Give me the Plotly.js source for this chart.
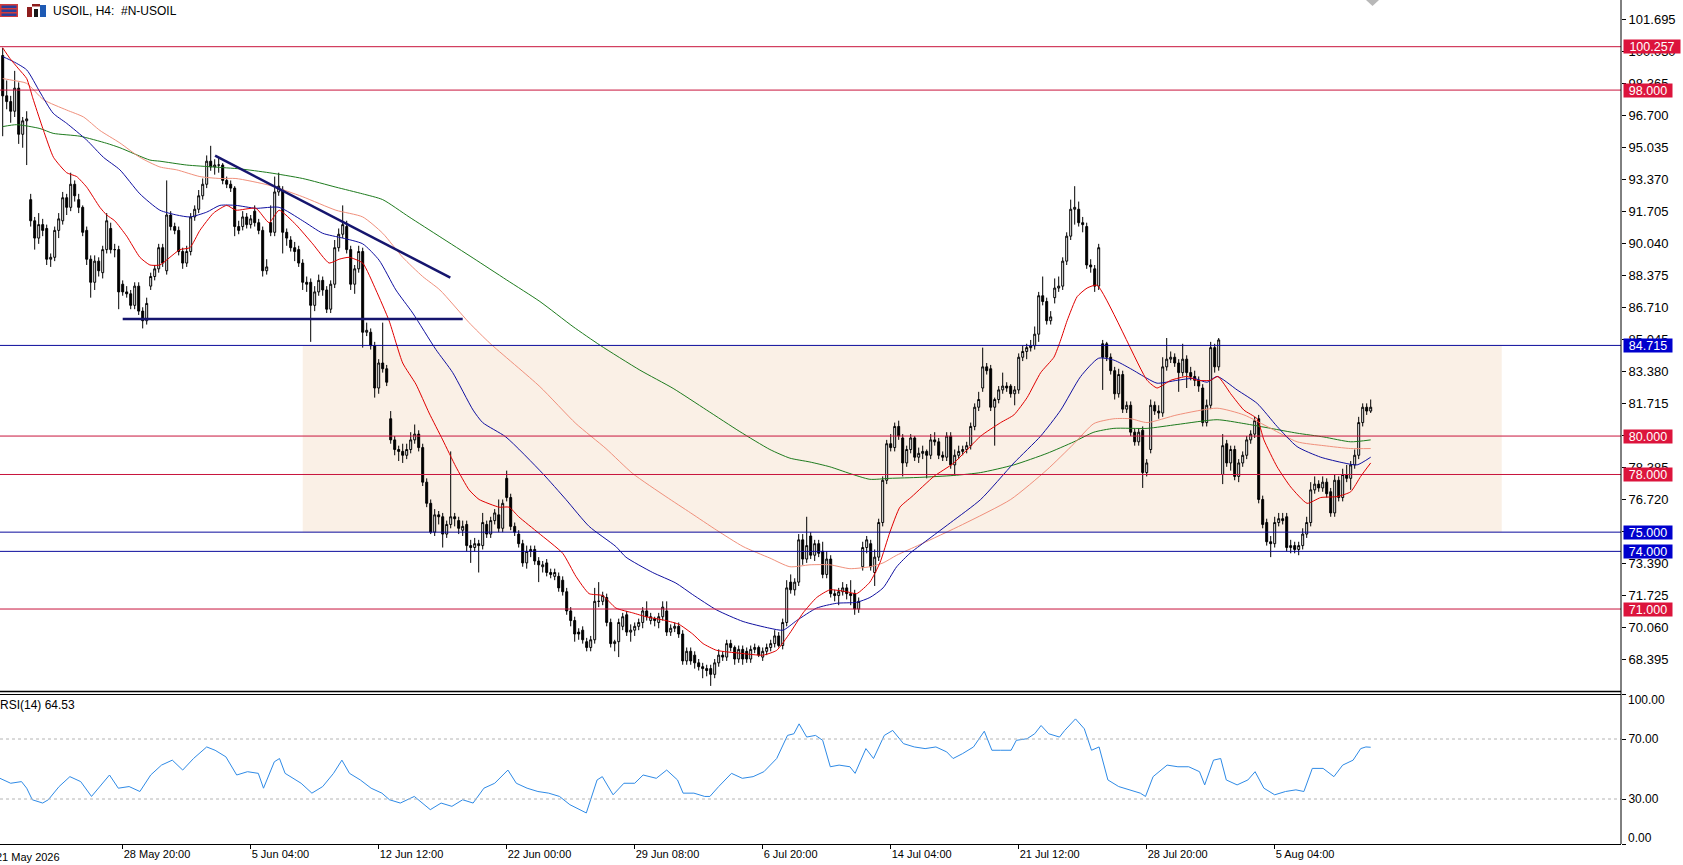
<!DOCTYPE html>
<html>
<head>
<meta charset="utf-8">
<script src="https://cdn.plot.ly/plotly-3.0.1.min.js"></script>
<style>html,body{margin:0;padding:0;background:#fff;}#chart{width:1683px;height:865px;}</style>
</head>
<body>
<div id="chart"></div>
<script>
// ---------------- DATA ----------------
const symbolTitle = 'USOIL, H4:\u00A0\u00A0#N-USOIL';
const rsiTitle = 'RSI(14) 64.53';

const xTickBars = [30, 62, 94, 126, 158, 190, 222, 254, 286, 318];
const xTickLabels = ['28 May 20:00','5 Jun 04:00','12 Jun 12:00','22 Jun 00:00','29 Jun 08:00','6 Jul 20:00','14 Jul 04:00','21 Jul 12:00','28 Jul 20:00','5 Aug 04:00'];
const firstLabelBar = -2;
const firstLabel = '21 May 2026';

const priceTicks = [101.695,100.030,98.365,96.700,95.035,93.370,91.705,90.040,88.375,86.710,85.045,83.380,81.715,80.050,78.385,76.720,75.055,73.390,71.725,70.060,68.395];
const rsiTicks = [0, 30, 70, 100];
const rsiLevels = [30, 70];

const redLevels = [100.257, 98.000, 80.000, 78.000, 71.000];
const blueLevels = [84.715, 75.000, 74.000];
const zoneBars = [75, 374.75];
const zonePrices = [75.0, 84.715];
const trendBars = [53.1, 111.9];
const trendPrices = [94.59, 88.24];
const supportBars = [30, 115];
const supportPrice = 86.09;

const opens = [
99.8,97.7,97.4,96.9,98.1,95.7,96.4,92.3,91.2,90.3,
91.0,90.8,89.2,89.3,90.7,91.2,92.4,91.9,93.1,92.3,
91.9,90.7,89.2,88.0,89.1,88.5,89.7,90.8,89.7,89.7,
87.9,87.5,87.4,86.8,87.8,86.5,86.0,87.8,88.3,88.7,
89.8,88.6,91.5,90.9,90.7,89.6,89.0,89.6,91.4,91.8,
92.5,93.1,94.3,94.0,94.1,94.1,93.3,93.1,92.9,90.9,
90.9,91.4,91.0,91.7,91.1,90.7,88.6,91.1,90.6,92.7,
92.8,90.6,90.2,89.8,89.7,89.0,88.0,88.0,86.8,87.5,
88.1,87.6,86.6,87.9,89.8,90.5,90.9,89.7,87.9,88.7,
89.6,85.4,85.4,84.7,82.5,83.8,83.5,80.9,79.8,79.3,
79.2,79.0,79.3,79.8,80.1,79.4,77.6,76.5,75.0,75.9,
75.8,74.9,75.4,75.8,75.6,75.1,75.4,74.3,74.2,74.4,
74.3,75.4,74.9,75.6,75.9,75.2,77.8,76.8,75.3,74.9,
74.4,73.4,74.0,74.1,73.5,73.2,73.4,72.9,72.7,72.7,
72.5,71.9,70.9,70.4,69.8,69.9,69.3,69.0,69.4,71.4,
71.4,71.6,70.3,69.2,69.3,70.1,70.7,69.8,69.9,70.1,
70.3,70.9,70.4,70.5,70.3,70.6,70.9,69.8,70.0,70.1,
69.7,68.3,68.8,68.6,68.2,68.0,67.9,67.9,67.6,68.2,
68.6,68.5,69.2,69.0,68.4,68.9,68.8,68.4,68.9,69.0,
68.5,68.8,69.0,69.2,69.6,69.1,70.3,72.4,72.0,72.4,
74.6,73.6,74.8,73.8,74.4,74.0,72.8,73.6,71.8,71.7,
71.9,72.1,71.8,71.8,71.0,73.2,74.2,74.4,72.9,73.7,
75.5,77.7,79.6,79.4,80.5,79.9,78.6,79.3,79.9,78.9,
79.1,79.2,79.0,79.8,79.7,79.0,78.9,80.0,78.5,79.0,
79.2,79.3,79.5,80.5,81.5,82.5,83.6,83.5,81.5,81.9,
82.4,82.6,82.6,82.2,82.4,84.1,84.4,84.6,84.7,85.3,
87.3,87.0,86.0,87.2,87.7,87.8,89.1,90.4,91.8,91.8,
91.1,90.9,88.9,88.7,87.8,84.8,84.8,84.1,83.4,82.2,
83.2,81.4,81.6,80.2,79.7,80.3,78.1,79.3,81.6,81.3,
81.2,83.6,84.0,84.1,83.8,83.3,84.0,83.3,83.1,82.9,
82.5,80.7,81.6,84.6,83.6,78.0,79.6,78.6,79.3,77.9,
78.6,79.0,79.8,80.1,80.9,76.7,75.5,74.5,74.4,75.5,
75.7,75.8,74.2,74.3,74.1,74.3,74.9,75.5,77.2,77.5,
77.3,77.6,77.1,76.0,77.7,76.8,78.0,77.8,78.5,79.0,
80.7,81.5,81.3];

const highs = [
100.2,98.5,97.7,99.0,98.4,96.6,96.9,92.6,91.4,91.6,
91.3,91.0,89.5,90.9,91.6,92.7,92.6,93.7,93.3,92.6,
92.0,90.9,89.4,89.4,89.3,89.9,91.6,91.1,90.0,89.9,
88.1,87.8,87.6,88.0,88.0,86.7,87.2,88.5,88.9,90.0,
90.0,93.3,91.7,91.1,90.9,89.8,89.9,91.6,92.0,92.8,
93.4,94.6,95.1,94.4,94.5,94.2,93.5,93.3,93.0,91.2,
91.7,91.6,91.5,92.0,91.3,90.9,89.2,92.0,93.5,93.7,
93.0,90.8,90.4,90.1,89.9,89.2,88.3,88.2,87.8,88.4,
88.3,87.8,88.1,90.2,90.8,92.0,91.2,89.9,88.9,89.9,
89.8,85.9,85.6,84.9,84.0,85.9,83.7,81.3,80.0,79.5,
79.6,79.6,80.2,80.6,80.3,79.6,77.8,76.7,76.2,76.1,
76.0,75.6,79.2,76.0,75.8,75.6,75.6,74.6,74.7,74.6,
76.0,75.6,75.8,76.2,76.7,76.7,78.2,77.0,75.5,75.1,
74.6,74.3,74.3,74.3,73.7,73.5,73.6,73.1,73.1,72.9,
72.7,72.1,71.1,70.6,70.0,70.1,69.5,69.6,72.1,72.4,
71.9,71.8,70.5,69.4,70.5,70.8,70.9,70.2,70.3,70.5,
71.1,71.4,70.8,70.6,70.8,71.4,71.4,70.2,70.3,70.3,
69.9,69.0,69.0,68.8,68.4,68.2,68.1,68.1,68.4,68.9,
68.8,69.4,69.4,69.1,69.1,69.1,69.0,69.1,69.2,69.1,
69.0,69.2,69.4,69.9,69.8,70.5,72.5,72.8,72.6,74.9,
74.9,75.8,75.0,74.6,74.6,74.5,74.0,73.8,72.0,72.1,
72.4,72.3,72.5,72.0,71.6,74.5,74.8,74.6,74.1,75.7,
77.9,79.8,80.1,80.7,80.8,80.1,79.5,80.1,80.0,79.4,
79.5,79.3,80.1,80.2,79.9,79.2,80.2,80.2,79.3,79.5,
79.5,79.7,80.7,81.7,82.3,84.6,83.8,83.7,82.0,82.6,
83.3,82.8,82.7,82.6,84.3,84.7,84.8,85.0,85.7,87.5,
88.3,87.2,86.5,88.2,88.3,89.3,90.6,92.3,93.0,92.2,
91.4,91.1,89.2,88.9,90.0,85.0,84.9,84.3,83.6,83.5,
83.4,81.8,81.8,80.4,80.4,80.5,78.8,81.9,81.8,81.6,
84.1,85.1,84.4,84.3,84.0,84.8,84.2,83.6,83.4,83.1,
82.7,81.9,84.9,84.8,85.1,80.1,79.8,79.5,79.5,78.8,
79.2,80.0,80.3,81.0,81.1,76.9,75.7,74.8,75.8,76.0,
76.0,76.0,74.6,74.5,74.5,75.2,75.8,77.6,77.9,77.7,
77.9,77.8,77.3,78.0,77.9,78.3,78.5,78.7,79.3,81.0,
81.7,81.7,81.9];

const lows = [
95.6,97.0,96.3,96.6,95.2,95.0,94.1,90.9,89.7,90.0,
90.4,88.9,88.8,89.1,90.3,91.0,91.5,91.7,92.2,91.6,
90.4,88.9,87.2,87.6,88.3,88.2,89.5,89.5,89.3,86.6,
87.3,87.2,86.6,86.6,86.3,85.6,85.8,87.6,88.1,88.5,
88.8,88.4,90.7,90.5,89.4,88.7,88.8,89.4,91.2,91.6,
92.3,92.9,93.8,93.6,93.7,93.1,92.9,92.7,90.4,90.5,
90.7,90.8,90.8,90.9,90.5,88.3,88.4,90.4,90.4,92.5,
89.5,89.9,89.6,89.1,88.8,87.6,87.5,84.9,86.5,87.3,
87.3,86.4,86.4,87.7,89.6,90.3,89.5,87.6,87.4,88.5,
84.6,85.2,84.5,82.0,82.2,83.3,82.6,79.6,79.0,78.7,
78.6,78.8,79.1,79.6,79.2,77.4,76.3,74.9,74.8,75.4,
74.2,74.7,75.2,75.3,74.9,74.8,74.0,73.4,74.0,72.9,
74.1,74.7,74.7,75.4,75.0,75.0,76.6,75.1,74.8,74.2,
73.2,73.1,73.7,73.3,72.4,72.9,72.7,72.6,72.5,71.9,
71.7,70.7,70.1,69.3,69.4,69.2,68.8,68.8,69.2,71.1,
71.2,70.1,69.0,68.8,68.5,69.9,69.6,69.3,69.6,69.9,
70.0,70.4,70.2,70.1,70.0,70.4,69.6,69.6,69.8,69.5,
68.1,68.1,68.1,67.9,67.8,67.4,67.5,67.0,67.4,68.0,
68.3,68.3,68.8,68.1,68.2,68.1,68.2,68.2,68.7,68.5,
68.3,68.6,68.8,69.0,69.0,68.9,70.1,71.8,71.7,72.2,
73.3,73.4,73.6,73.5,73.7,72.6,72.6,71.6,71.4,71.2,
71.7,71.5,71.2,70.7,70.8,73.0,73.9,73.0,72.2,73.5,
75.3,77.5,79.2,79.2,79.8,77.9,78.4,79.1,78.7,78.6,
78.8,77.8,78.8,79.5,78.8,78.7,78.7,78.3,78.0,78.8,
79.0,79.1,79.3,80.3,81.3,82.3,83.2,81.3,79.5,81.7,
82.2,82.3,82.0,81.6,82.2,83.9,84.0,84.4,84.5,84.9,
86.8,85.8,85.8,86.9,87.5,87.6,88.9,90.2,91.0,90.9,
90.6,88.7,88.5,87.5,87.6,82.4,83.9,83.2,81.9,82.0,
81.2,81.2,80.0,79.5,79.5,77.3,77.9,79.1,81.1,80.9,
81.0,83.4,83.8,83.6,82.3,83.1,82.5,82.9,82.6,82.3,
80.5,80.5,81.4,83.3,83.4,77.5,78.4,78.2,77.7,77.6,
78.4,78.8,79.6,79.9,76.5,75.2,74.3,73.7,74.2,75.3,
75.4,74.0,73.9,73.9,73.8,74.1,74.7,75.3,77.0,77.1,
77.1,76.8,75.8,75.8,76.6,76.6,77.6,77.2,78.3,78.8,
80.5,81.1,81.2];

const closes = [
97.7,97.4,96.9,98.1,95.7,96.4,96.5,91.2,90.3,91.0,
90.7,89.2,89.3,90.7,91.3,92.4,91.9,93.1,92.5,91.9,
90.6,89.2,88.0,89.1,88.6,89.7,91.2,89.7,89.7,87.5,
87.5,87.4,86.8,87.8,86.5,86.0,86.9,88.3,88.7,89.8,
89.0,91.5,90.9,90.7,89.6,89.0,89.6,91.4,91.8,92.5,
93.1,94.3,94.0,94.1,94.1,93.3,93.1,92.9,90.9,90.7,
91.4,91.0,91.3,91.1,90.7,88.6,88.8,90.6,92.7,93.0,
90.6,90.3,89.8,89.6,89.0,88.0,87.9,86.8,87.5,88.1,
87.6,86.6,87.9,89.8,90.5,91.0,89.7,87.9,88.7,89.6,
85.4,85.5,84.7,82.5,83.8,83.5,82.8,79.8,79.3,79.2,
79.0,79.3,79.8,80.1,79.4,77.6,76.5,75.0,75.9,75.8,
74.9,75.4,75.8,75.7,75.2,75.3,74.3,74.2,74.4,74.3,
75.5,74.9,75.6,76.0,75.2,76.5,76.8,75.3,75.0,74.4,
73.4,74.0,74.1,73.5,73.3,73.3,72.9,72.8,72.9,72.1,
71.9,70.9,70.4,69.7,69.7,69.4,69.0,69.4,71.4,71.4,
71.7,70.3,69.2,69.3,70.3,70.6,69.8,69.9,70.1,70.3,
70.9,70.6,70.6,70.4,70.6,71.1,69.8,70.0,70.1,69.7,
68.3,68.8,68.3,68.2,68.0,67.9,67.8,67.6,68.2,68.6,
68.5,69.2,69.0,68.4,68.9,68.4,68.4,68.9,69.0,68.6,
68.8,69.0,69.2,69.6,69.1,70.3,72.1,72.0,72.4,74.6,
73.6,74.3,73.8,74.4,73.9,72.8,73.6,71.8,71.7,71.9,
72.1,71.8,71.7,71.0,71.4,74.2,74.6,73.2,73.7,75.5,
77.7,79.6,79.4,80.5,80.0,78.6,79.3,79.9,78.9,79.1,
79.2,79.0,79.8,79.7,79.0,78.9,80.0,78.5,79.0,79.2,
79.3,79.5,80.5,81.5,81.9,83.6,83.4,81.5,81.9,82.4,
82.6,82.5,82.2,82.4,84.1,84.4,84.6,84.7,85.3,87.3,
87.0,86.0,86.2,87.7,87.8,89.1,90.4,91.8,91.9,91.1,
91.0,88.9,88.8,87.8,89.8,84.1,84.1,83.4,82.2,83.2,
81.4,81.6,80.2,79.7,80.2,78.1,78.6,81.6,81.3,81.2,
83.6,84.0,84.1,83.8,83.3,84.0,83.3,83.1,82.9,82.6,
80.7,81.6,84.6,83.6,85.0,79.5,78.6,79.3,77.9,78.6,
79.0,79.8,80.1,80.8,76.7,75.4,74.5,74.4,75.5,75.7,
75.6,74.2,74.3,74.1,74.3,74.9,75.5,77.2,77.5,77.3,
77.6,77.0,76.0,77.7,76.8,78.0,77.8,78.5,79.0,80.7,
81.5,81.3,81.5];

// moving averages, read at sampled bars
const maFastBar = [0,1.8,4,6,7.5,8.5,10.2,12.7,16,18.5,21,24.3,26,28,31,34.3,36.8,39.3,41.8,44.3,46.8,49.3,52.7,56,58.3,63.3,66.6,69.1,73.3,77.5,81.6,84.1,86.6,90,93.3,96.6,100,103.3,106.6,110,113.3,116.6,119.1,124.1,126.6,129,134,140,143.3,146.6,150,153.3,157.5,160.8,165.8,169.1,172.5,175.1,178.5,184.3,190.1,193.5,196.8,200.1,203.5,206.8,211,213.5,216.8,219.3,221.8,224.3,227.3,232.8,237.8,244.5,249.5,252.8,256.1,259.5,262.8,264.5,266.1,268.6,271.1,273.6,286.1,288.6,292,296.1,298.6,302,303.8,307,310.3,313.6,315.3,318.6,322,326.1,329.5,333.6,337,339.5,342];
const maFastVal = [100.2,99.65,99.1,98.6,97.6,96.96,95.9,94.5,93.7,93.5,92.95,91.9,91.5,91.2,90.4,89.3,88.9,88.9,89.3,89.7,89.8,90.7,91.6,92.0,91.75,91.85,91.1,91.75,91.0,90.0,89.0,89.2,89.3,89.0,87.6,86.0,83.8,82.7,81.2,79.8,78.4,77.2,76.7,76.3,76.3,75.8,74.95,73.9,72.7,71.8,71.7,71.05,70.8,70.6,70.4,70.2,69.7,69.2,68.85,68.7,68.6,68.85,69.75,70.8,71.6,72.0,71.9,71.8,72.4,73.4,75.0,76.3,76.85,77.9,78.6,80.0,80.7,81.1,82.0,83.3,84.1,85.0,86.0,87.25,87.7,87.85,82.9,82.5,82.9,83.1,82.9,82.9,83.1,82.2,81.35,80.9,79.8,78.4,77.35,76.5,76.8,76.85,77.1,77.9,78.6];

const maMidBar = [0,2.7,6,9.3,12.6,16,21,25.2,29.3,34.3,39.3,43.5,46.8,51,54.3,58.3,63.3,69.1,75,80,85,90,94.1,98.3,102.5,108.3,112.5,117.6,120,125.8,135,140.8,146.6,153.3,155.8,162.5,168.3,172.5,178.5,185.1,191.8,195.1,198.5,203.5,208.5,213.5,216.8,220.1,223.5,226.8,229.3,237,244.5,252.8,259.5,264.5,269.5,274,277.8,282,286.1,288.6,293.6,297.8,301.1,303.6,308.6,313.6,318.6,323.6,329.5,335.3,338.6,342];
const maMidVal = [99.74,99.48,99.05,97.9,96.8,96.27,95.4,94.5,93.85,92.6,91.75,91.5,91.4,91.65,92.0,92.0,91.85,91.9,91.2,90.55,90.3,90.0,89.15,87.6,86.4,84.5,83.3,81.35,80.7,79.95,78.05,76.7,75.3,74.25,73.7,72.9,72.35,71.75,70.95,70.35,70.0,69.9,70.4,71.05,71.3,71.35,71.6,72.1,73.2,73.9,74.3,75.5,76.7,78.6,80.0,81.35,83.1,84.05,83.95,83.5,83.0,82.75,82.9,83.0,82.8,83.1,82.4,81.7,80.5,79.45,78.9,78.6,78.5,78.9];

const maSlowBar = [0,2.7,6,10.2,16,20.2,24.3,29.3,34.3,39.3,43.5,49.3,54.3,58.3,66.6,75,83.3,90,95,100,105,109.3,116.6,121.8,134.3,143.3,150.8,157.5,165.8,172,178.5,185.1,191.8,196.8,201.8,206.8,211.8,216.8,220.1,223.5,229.3,240,252,261.1,267.8,272.8,277.8,282,286.1,293.6,303.6,310.3,317,323.6,330.3,337,342];
const maSlowVal = [98.6,98.5,98.35,97.5,96.96,96.6,95.9,95.25,94.5,94.0,93.85,93.5,93.4,93.4,93.05,92.45,91.75,91.4,90.55,89.3,88.3,87.6,85.9,84.83,82.57,80.65,79.35,78.05,76.85,76.0,75.1,74.25,73.65,73.2,73.3,73.3,73.1,73.2,73.4,73.8,74.35,75.4,76.7,78.25,79.6,80.65,80.9,80.9,80.7,81.1,81.45,81.1,80.4,79.7,79.5,79.35,79.35];

const maLongBar = [0,3.5,9.3,12.6,19.3,26,29.3,36.8,39.3,46,52.7,59.3,66.6,75,83.3,90,95,101.6,109.3,117.6,126,134.3,142.6,149.3,159.3,167.6,176,184.3,191.8,196.8,201.8,206.8,211.8,216.8,221.8,229.3,237.8,244.5,252.8,261.1,267.8,272.8,277.8,286.1,293.6,303.6,310.3,317,323.6,330.3,337,342];
const maLongVal = [96.1,96.2,96.0,95.75,95.6,95.23,95.0,94.36,94.3,94.1,94.0,93.9,93.7,93.4,92.95,92.6,92.3,91.4,90.37,89.26,88.12,87.0,85.69,84.73,83.43,82.48,81.35,80.23,79.3,78.85,78.65,78.4,78.05,77.75,77.8,77.85,77.95,78.1,78.5,79.1,79.7,80.2,80.4,80.4,80.6,80.85,80.65,80.4,80.15,79.95,79.7,79.8];

// RSI(14), read at sampled bars
const rsiBar = [-0.7,2,4.7,6,7.4,10,11.4,14.1,16.8,19.5,22.2,24.9,26.7,28.9,31.6,34.3,37,39.7,42.4,45,47.7,51,53.1,55.8,58.5,61.2,63.9,65.2,67.9,69.2,70.6,74.6,77.3,80,82.7,84.8,86.7,89.4,92.1,94.8,96.7,99.4,102.9,106.9,109.6,112.3,115,117.6,120.3,123,126.3,128.4,131.1,133.8,136.5,139.2,141.8,145.9,148.6,149.9,152.6,155.3,158,160.1,163.4,166,168.7,170.1,172.8,175.5,176.8,179,182.2,184.9,187.6,190.3,193.5,196.2,197.8,199.1,201,203.2,205,206.9,209.1,211.8,213.1,215.8,217.7,220.4,222.5,225.2,227.9,230.6,233.3,236,237.6,240,242.7,245.4,247.3,249.4,252.1,253.4,256.1,258,259.6,261.5,264.2,265.5,268.2,270.4,272.2,274.1,276.3,279,281.7,284.4,285.7,287.6,291.1,293.8,296.5,299.2,300.5,302.7,304.5,305.9,308.6,311.3,313.1,315.3,318,320.7,323.3,325.3,327.4,330.1,332.8,335,337.6,339.5,340.8,342];
const rsiVal = [43.8,40.5,41.6,37.2,29.5,27.3,29.5,38.3,44.9,41.6,31.7,40.5,46.0,37.2,38.3,35.0,46.0,52.6,55.9,49.3,57.0,64.7,62.5,58.1,46.0,48.2,47.1,37.2,54.8,57.0,47.1,40.5,33.9,38.3,47.1,55.9,47.1,42.7,37.2,33.9,29.5,27.3,31.7,22.9,27.3,25.1,29.5,27.3,37.2,40.5,49.3,40.5,37.2,35.0,33.9,31.7,26.2,20.7,42.7,44.9,32.8,40.5,40.5,46.0,43.8,49.3,42.7,33.9,33.9,31.7,31.7,38.3,47.1,43.8,44.9,48.2,57.0,72.4,73.5,80.1,71.3,72.4,69.1,51.5,52.6,51.5,47.1,63.6,57.0,72.4,75.7,66.9,64.7,63.6,64.7,61.4,57.0,60.3,64.7,75.2,62.5,62.5,62.5,69.1,70.2,73.5,79.0,73.5,71.3,75.7,83.4,76.8,62.5,64.7,42.7,38.3,36.1,33.9,31.7,44.9,52.6,51.5,51.5,48.2,39.4,55.9,57.0,42.7,39.4,42.7,48.2,37.2,32.8,35.0,36.1,35.0,50.4,50.4,44.9,52.6,55.9,63.6,64.7,64.5];

// ---------------- LAYOUT / STYLE ----------------
const FONT = 'Liberation Sans, Arial, sans-serif';
const PLOT_W = 1621, PLOT_H = 844;
const px = x => x / PLOT_W;
const py = y => 1 - y / PLOT_H;
const mainDomain = [py(691), 1];
const rsiDomain = [0, py(694)];

const barIdx = closes.map((_, i) => i);

const traces = [
  {
    type: 'candlestick', x: barIdx, open: opens, high: highs, low: lows, close: closes,
    xaxis: 'x', yaxis: 'y', hoverinfo: 'skip', whiskerwidth: 0,
    increasing: {line: {color: '#000000', width: 1}, fillcolor: '#FFFFFF'},
    decreasing: {line: {color: '#000000', width: 1}, fillcolor: '#000000'}
  },
  {type: 'scatter', mode: 'lines', x: maLongBar, y: maLongVal, xaxis: 'x', yaxis: 'y', hoverinfo: 'skip',
   line: {color: '#1E7B1E', width: 1, shape: 'spline', smoothing: 0.6}},
  {type: 'scatter', mode: 'lines', x: maSlowBar, y: maSlowVal, xaxis: 'x', yaxis: 'y', hoverinfo: 'skip',
   line: {color: '#F0907C', width: 1, shape: 'spline', smoothing: 0.6}},
  {type: 'scatter', mode: 'lines', x: maMidBar, y: maMidVal, xaxis: 'x', yaxis: 'y', hoverinfo: 'skip',
   line: {color: '#1010A0', width: 1, shape: 'spline', smoothing: 0.6}},
  {type: 'scatter', mode: 'lines', x: maFastBar, y: maFastVal, xaxis: 'x', yaxis: 'y', hoverinfo: 'skip',
   line: {color: '#E00000', width: 1, shape: 'spline', smoothing: 0.5}},
  {type: 'scatter', mode: 'lines', x: rsiBar, y: rsiVal, xaxis: 'x', yaxis: 'y2', hoverinfo: 'skip',
   line: {color: '#2E8AE6', width: 1}}
];

const RED = '#C8143C', RED_BOX = '#DC143C';
const BLUE = '#0A0A9C', BLUE_BOX = '#0000CD';

const shapes = [];
shapes.push({type: 'rect', xref: 'x', yref: 'y', x0: zoneBars[0], x1: zoneBars[1], y0: zonePrices[0], y1: zonePrices[1],
  fillcolor: '#FAF0E6', line: {width: 0}, layer: 'below'});
redLevels.forEach(v => shapes.push({type: 'line', xref: 'paper', yref: 'y', x0: 0, x1: 1, y0: v, y1: v, line: {color: RED, width: 1}}));
blueLevels.forEach(v => shapes.push({type: 'line', xref: 'paper', yref: 'y', x0: 0, x1: 1, y0: v, y1: v, line: {color: BLUE, width: 1}}));
shapes.push({type: 'line', xref: 'x', yref: 'y', x0: trendBars[0], x1: trendBars[1], y0: trendPrices[0], y1: trendPrices[1], line: {color: '#15156E', width: 2.5}});
shapes.push({type: 'line', xref: 'x', yref: 'y', x0: supportBars[0], x1: supportBars[1], y0: supportPrice, y1: supportPrice, line: {color: '#15156E', width: 2.5}});
rsiLevels.forEach(v => shapes.push({type: 'line', xref: 'paper', yref: 'y2', x0: 0, x1: 1, y0: v, y1: v, line: {color: '#B4B4B4', width: 1, dash: 'dot'}}));
// panel separators and price-axis line
shapes.push({type: 'line', xref: 'paper', yref: 'paper', x0: 0, x1: 1, y0: py(691.5), y1: py(691.5), line: {color: '#000', width: 1.5}});
shapes.push({type: 'line', xref: 'paper', yref: 'paper', x0: 0, x1: 1, y0: py(694.5), y1: py(694.5), line: {color: '#000', width: 1}});
shapes.push({type: 'line', xref: 'paper', yref: 'paper', x0: 1, x1: 1, y0: 0, y1: 1, line: {color: '#000', width: 1}});
// header icons
function rectPx(x0, y0, x1, y1, color) {
  shapes.push({type: 'rect', xref: 'paper', yref: 'paper', x0: px(x0), x1: px(x1), y0: py(y1), y1: py(y0), fillcolor: color, line: {width: 0}});
}
rectPx(0, 4, 18, 17, '#D23C3C');
rectPx(1.5, 5.5, 16.5, 8, '#2A3F9A');
rectPx(1.5, 9.5, 16.5, 12, '#2A3F9A');
rectPx(1.5, 13.5, 16.5, 16, '#2A3F9A');
rectPx(27, 7, 32, 17, '#8E1E1E');
rectPx(32, 4, 40, 6.5, '#8E1E1E');
rectPx(34, 9, 38, 17, '#1A1A1A');
rectPx(40, 5, 46, 17, '#1E5AB4');
// small grey object cut at top
shapes.push({type: 'path', xref: 'paper', yref: 'paper',
  path: `M ${px(1366)} ${py(0)} L ${px(1379)} ${py(0)} L ${px(1372.5)} ${py(6)} Z`, fillcolor: '#B8B8B8', line: {width: 0}});

const annotations = [];
function levelBox(v, color) {
  const t = v.toFixed(3);
  annotations.push({xref: 'paper', yref: 'y', x: 1, y: v, xanchor: 'left', yanchor: 'middle', xshift: 2,
    text: t, showarrow: false, bgcolor: color, borderpad: 0, width: t.length * 8, height: 13,
    font: {family: FONT, size: 12.5, color: '#FFFFFF'}, align: 'center'});
}
redLevels.forEach(v => levelBox(v, RED_BOX));
blueLevels.forEach(v => levelBox(v, BLUE_BOX));
annotations.push({xref: 'paper', yref: 'paper', x: px(50.5), y: py(11), xanchor: 'left', yanchor: 'middle',
  text: symbolTitle, showarrow: false, font: {family: FONT, size: 12, color: '#000'}});
annotations.push({xref: 'paper', yref: 'paper', x: px(-2), y: py(705), xanchor: 'left', yanchor: 'middle',
  text: rsiTitle, showarrow: false, font: {family: FONT, size: 12, color: '#000'}});
annotations.push({xref: 'paper', yref: 'paper', x: px(2.7 + 4 * firstLabelBar - 1.2), y: py(857), xanchor: 'left', yanchor: 'middle',
  text: firstLabel, showarrow: false, font: {family: FONT, size: 11, color: '#000'}});
annotations.push({xref: 'paper', yref: 'paper', x: 1, y: rsiDomain[1], xanchor: 'left', yanchor: 'middle', xshift: 5, yshift: -6,
  text: rsiTicks[3].toFixed(2), showarrow: false, font: {family: FONT, size: 12, color: '#000'}});
annotations.push({xref: 'paper', yref: 'paper', x: 1, y: rsiDomain[0], xanchor: 'left', yanchor: 'middle', xshift: 5, yshift: 6,
  text: rsiTicks[0].toFixed(2), showarrow: false, font: {family: FONT, size: 12, color: '#000'}});

const layout = {
  width: 1683, height: 865,
  margin: {l: 0, r: 62, t: 0, b: 21, pad: 0},
  paper_bgcolor: '#FFFFFF', plot_bgcolor: '#FFFFFF',
  showlegend: false,
  font: {family: FONT, size: 12, color: '#000'},
  xaxis: {
    range: [-0.675, 404.575], anchor: 'y2', type: 'linear',
    tickvals: xTickBars, ticktext: xTickLabels, ticks: 'outside', ticklen: 4, tickcolor: '#000', tickwidth: 1,
    ticklabelposition: 'outside right', tickfont: {family: FONT, size: 11, color: '#000'},
    showgrid: false, zeroline: false, showline: true, linecolor: '#000', linewidth: 1,
    rangeslider: {visible: false}, fixedrange: true
  },
  yaxis: {
    domain: mainDomain, range: [66.735, 102.687], side: 'right', anchor: 'x',
    tickvals: priceTicks, ticktext: priceTicks.map(v => v.toFixed(3)), ticks: 'outside', ticklen: 4, tickcolor: '#000',
    tickfont: {family: FONT, size: 13, color: '#000'}, showgrid: false, zeroline: false, showline: false, fixedrange: true
  },
  yaxis2: {
    domain: rsiDomain, range: [0, 100], side: 'right', anchor: 'x',
    tickvals: rsiTicks, ticktext: rsiTicks.map(v => (v === 30 || v === 70) ? v.toFixed(2) : ''), ticks: 'outside', ticklen: 4, tickcolor: '#000',
    tickfont: {family: FONT, size: 12, color: '#000'}, showgrid: false, zeroline: false, showline: false, fixedrange: true
  },
  shapes: shapes,
  annotations: annotations
};

Plotly.newPlot('chart', traces, layout, {staticPlot: true, displayModeBar: false});
</script>
</body>
</html>
